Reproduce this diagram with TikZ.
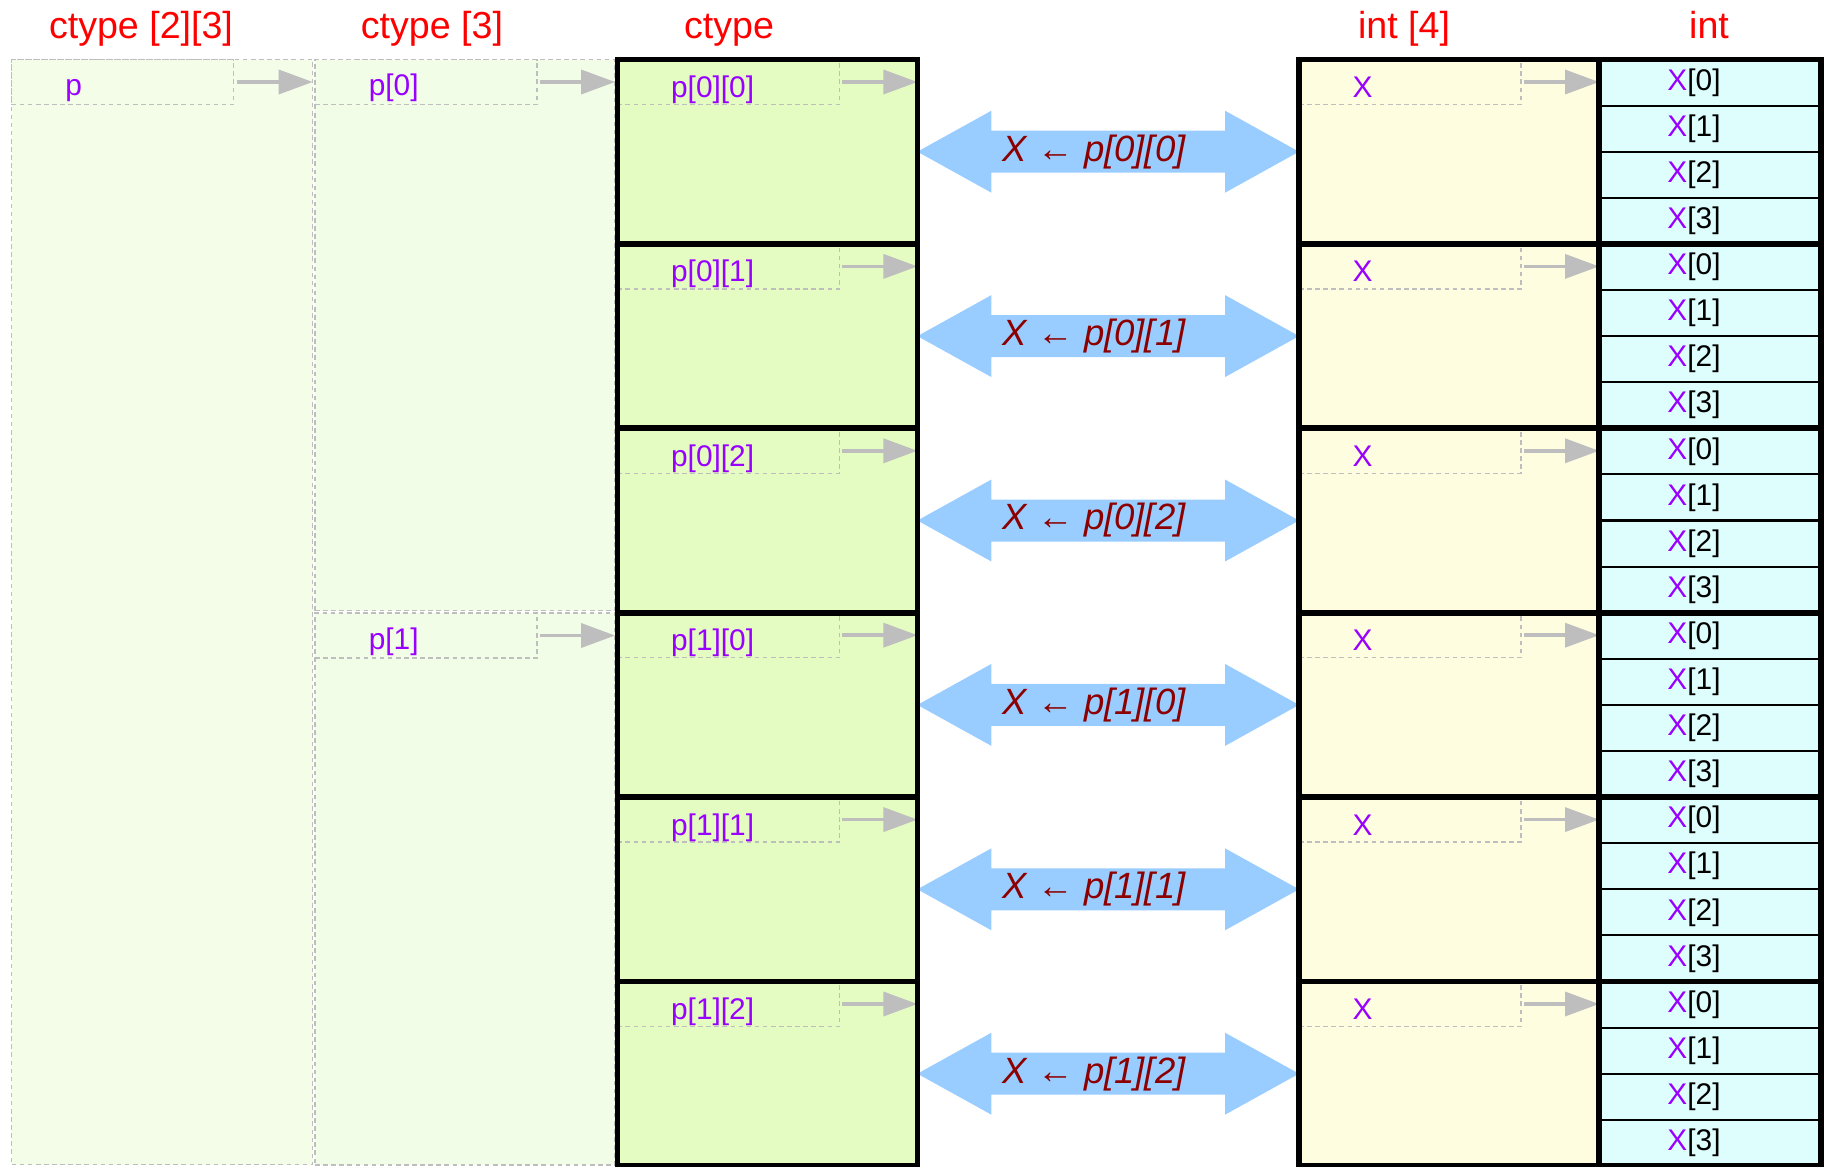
\documentclass[tikz,border=0pt]{standalone}
\usepackage{fontspec}
\setmainfont{Liberation Sans}
\usetikzlibrary{arrows.meta, calc, positioning}

\definecolor{hdrred}{RGB}{255,0,0}
\definecolor{ptrpurple}{RGB}{153,0,255}
\definecolor{linegray}{RGB}{190,190,190}
\definecolor{arrowgray}{RGB}{190,190,190}
\definecolor{paleA}{RGB}{243,253,232}
\definecolor{paleB}{RGB}{242,253,231}
\definecolor{ctgreen}{RGB}{228,252,193}
\definecolor{intyellow}{RGB}{254,253,224}
\definecolor{intcyan}{RGB}{222,254,254}
\definecolor{bigblue}{RGB}{153,204,255}
\definecolor{lbldark}{RGB}{140,0,0}

\tikzstyle{heading}=[anchor=base, inner sep=0, text=hdrred, font=\fontsize{10.7}{12}\selectfont]
\tikzstyle{memcol}=[rectangle, anchor=north west, inner sep=0, outer sep=0, draw=linegray, line width=0.4pt, dash pattern=on 1.3pt off 1pt]
\tikzstyle{ptrbox}=[memcol, minimum width=2.22cm, minimum height=0.45cm]
\tikzstyle{ptrlbl}=[anchor=base west, inner sep=0, text=ptrpurple, font=\fontsize{8.5}{10}\selectfont]
\tikzstyle{ptrarrow}=[draw=arrowgray, line width=1pt, -{Triangle[length=0.34cm, width=0.24cm]}, shorten <=0.03cm]
\tikzstyle{blockfill}=[rectangle, anchor=north west, inner sep=0, outer sep=0, minimum width=3cm, minimum height=1.844cm]
\tikzstyle{cell}=[rectangle, anchor=north west, inner sep=0, outer sep=0, minimum width=2.22cm, minimum height=0.461cm, draw=black, line width=0.6pt, fill=intcyan, font=\fontsize{8.5}{10}\selectfont]
\tikzstyle{thickborder}=[draw=black, line width=1.6pt]
\tikzstyle{bigarrow}=[fill=bigblue]
\tikzstyle{xlbl}=[inner sep=0, text=lbldark, font=\fontsize{10.4}{12}\selectfont\itshape]

\begin{document}
\begin{tikzpicture}
\useasboundingbox (0,0) rectangle (18.30,-11.66);

% headings
\node[heading] (h1) at (1.41,-0.385) {ctype [2][3]};
\node[heading] (h2) at (4.32,-0.385) {ctype [3]};
\node[heading] (h3) at (7.29,-0.385) {ctype};
\node[heading] (h4) at (14.04,-0.385) {int [4]};
\node[heading] (h5) at (17.09,-0.385) {int};

% ctype [2][3]
\node[memcol, fill=paleA, minimum width=3.01cm, minimum height=11.05cm] (arr) at (0.117,-0.595) {};
\node[ptrbox] (pbox) at (arr.north west) {};
\node[ptrlbl] (plbl) at ($(pbox.north west)+(0.53,-0.36)$) {p};
\draw[ptrarrow] (pbox.east) -- (pbox.east -| arr.east);

% ctype [3]
\foreach \a/\y/\h in {0/-0.595/5.51, 1/-6.13/5.52}{
	\node[memcol, fill=paleB, minimum width=3cm, minimum height=\h cm] (row\a) at (3.151,\y) {};
	\node[ptrbox] (rowp\a) at (row\a.north west) {};
	\node[ptrlbl] (rowl\a) at ($(rowp\a.north west)+(0.53,-0.36)$) {p[\a]};
	\draw[ptrarrow] (rowp\a.east) -- (rowp\a.east -| row\a.east);
}

% ctype, int [4], int
\foreach \a in {0,1}{
	\foreach \b in {0,1,2}{
	\pgfmathsetmacro\ytop{-0.595-1.844*(3*\a+\b)}
	\node[blockfill, fill=ctgreen] (ct\a\b) at (6.174,\ytop) {};
	\node[blockfill, fill=intyellow] (in\a\b) at (12.99,\ytop) {};
	\foreach \k in {0,...,3}
		\node[cell] (el\a\b\k) at (15.99,\ytop-0.461*\k) {\textcolor{ptrpurple}{X}[\k]\hspace*{0.32cm}};
	\node[ptrbox] (ctp\a\b) at (ct\a\b.north west) {};
	\node[ptrlbl] (ctl\a\b) at ($(ctp\a\b.north west)+(0.53,-0.38)$) {p[\a][\b]};
	\draw[ptrarrow] (ctp\a\b.east) -- (ctp\a\b.east -| ct\a\b.east);
	\node[ptrbox] (inp\a\b) at (in\a\b.north west) {};
	\node[ptrlbl] (inl\a\b) at ($(inp\a\b.north west)+(0.53,-0.38)$) {X};
	\draw[ptrarrow] (inp\a\b.east) -- (inp\a\b.east -| in\a\b.east);
	\fill[bigarrow] (ct\a\b.east) -- ++(0.74,0.41) -- ++(0,-0.2)
		-- ($(in\a\b.west)+(-0.74,0.21)$) -- ++(0,0.2) -- (in\a\b.west)
		-- ++(-0.74,-0.41) -- ++(0,0.2) -- ($(ct\a\b.east)+(0.74,-0.21)$)
		-- ++(0,-0.2) -- cycle;
	\node[xlbl] (as\a\b) at ($(ct\a\b.east)!0.5!(in\a\b.west)+(-0.14,0)$) {X ← p[\a][\b]};
	\draw[thickborder] (ct\a\b.north west) rectangle (ct\a\b.south east);
	\draw[thickborder] (in\a\b.north west) rectangle (in\a\b.south east);
	\draw[thickborder] (el\a\b0.north west) rectangle (el\a\b3.south east);
	}}
\end{tikzpicture}
\end{document}
